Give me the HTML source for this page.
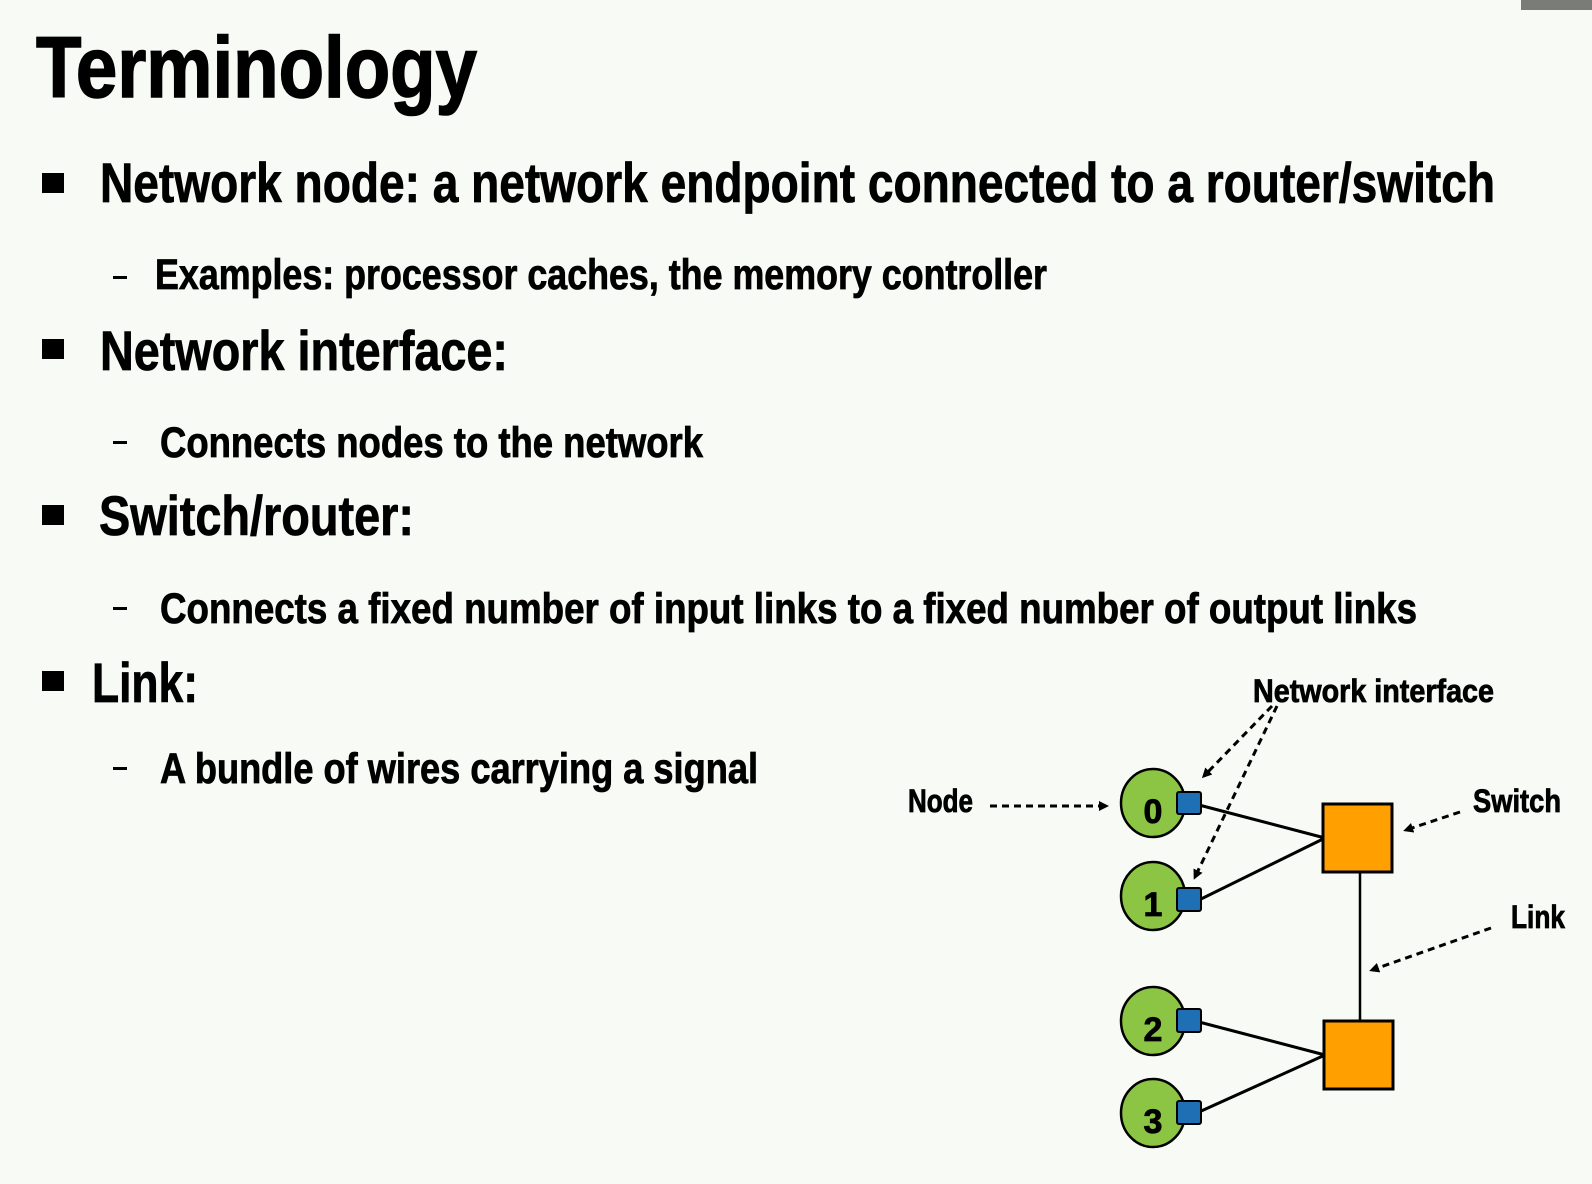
<!DOCTYPE html>
<html><head><meta charset="utf-8"><style>
html,body{margin:0;padding:0;background:#f8fbf5;}
svg{display:block}
text{font-family:"Liberation Sans",sans-serif;font-weight:bold;fill:#000;stroke:#000;stroke-width:0.8}
</style></head><body>
<svg width="1592" height="1184" viewBox="0 0 1592 1184" xmlns="http://www.w3.org/2000/svg">
<defs>
<marker id="ah" markerWidth="10" markerHeight="10" refX="7" refY="5" orient="auto" markerUnits="userSpaceOnUse">
<path d="M0,0 L10,5 L0,10 z" fill="#000"/>
</marker>
</defs>
<rect width="1592" height="1184" fill="#f8fbf5"/>
<rect x="1521" y="0" width="71" height="10" fill="#7a7c78"/>

<text x="36" y="97" font-size="86" textLength="441" lengthAdjust="spacingAndGlyphs" style="stroke-width:1.5">Terminology</text>

<rect x="42" y="173" width="22" height="20" fill="#000"/>
<text x="100" y="202" font-size="56" textLength="1395" lengthAdjust="spacingAndGlyphs">Network node: a network endpoint connected to a router/switch</text>
<rect x="113" y="276" width="14" height="3" fill="#000"/>
<text x="155" y="289" font-size="43" textLength="892" lengthAdjust="spacingAndGlyphs">Examples: processor caches, the memory controller</text>

<rect x="42" y="339" width="22" height="20" fill="#000"/>
<text x="100" y="370" font-size="56" textLength="408" lengthAdjust="spacingAndGlyphs">Network interface:</text>
<rect x="113" y="441" width="14" height="3" fill="#000"/>
<text x="160" y="457" font-size="43" textLength="543" lengthAdjust="spacingAndGlyphs">Connects nodes to the network</text>

<rect x="42" y="505" width="22" height="20" fill="#000"/>
<text x="99" y="535" font-size="56" textLength="315" lengthAdjust="spacingAndGlyphs">Switch/router:</text>
<rect x="113" y="607" width="14" height="3" fill="#000"/>
<text x="160" y="623" font-size="43" textLength="1257" lengthAdjust="spacingAndGlyphs">Connects a fixed number of input links to a fixed number of output links</text>

<rect x="42" y="671" width="22" height="20" fill="#000"/>
<text x="92" y="702" font-size="56" textLength="106" lengthAdjust="spacingAndGlyphs">Link:</text>
<rect x="113" y="767" width="14" height="3" fill="#000"/>
<text x="160" y="783" font-size="43" textLength="598" lengthAdjust="spacingAndGlyphs">A bundle of wires carrying a signal</text>

<!-- diagram -->
<g stroke="#000" stroke-width="3" fill="none">
<line x1="1199" y1="805" x2="1325" y2="838"/>
<line x1="1199" y1="900" x2="1325" y2="838"/>
<line x1="1199" y1="1022" x2="1325" y2="1055"/>
<line x1="1199" y1="1112" x2="1325" y2="1055"/>
<line x1="1360" y1="872" x2="1360" y2="1021" stroke-width="2.5"/>
</g>
<g stroke="#000" stroke-width="2.5" fill="#8cc543">
<ellipse cx="1153" cy="803" rx="32" ry="34"/>
<ellipse cx="1153" cy="896" rx="32" ry="34"/>
<ellipse cx="1153" cy="1021" rx="32" ry="34"/>
<ellipse cx="1153" cy="1113" rx="32" ry="34"/>
</g>
<g stroke="#000" stroke-width="2" fill="#1f6fb4">
<rect x="1177" y="792" width="24" height="22" rx="2"/>
<rect x="1177" y="888" width="24" height="23" rx="2"/>
<rect x="1177" y="1009" width="24" height="23" rx="2"/>
<rect x="1177" y="1101" width="24" height="23" rx="2"/>
</g>
<g stroke="#000" stroke-width="3" fill="#ffa000">
<rect x="1323" y="804" width="69" height="68"/>
<rect x="1324" y="1021" width="69" height="68"/>
</g>
<g font-size="34" text-anchor="middle">
<text x="1153" y="823">0</text>
<text x="1153" y="916">1</text>
<text x="1153" y="1041">2</text>
<text x="1153" y="1133">3</text>
</g>

<g stroke="#000" stroke-width="3" stroke-dasharray="7,5" fill="none" marker-end="url(#ah)">
<line x1="990" y1="806" x2="1106" y2="806"/>
<line x1="1272" y1="706" x2="1204" y2="776"/>
<line x1="1277" y1="706" x2="1195" y2="877"/>
<line x1="1460" y1="812" x2="1406" y2="830"/>
<line x1="1491" y1="928" x2="1372" y2="970"/>
</g>
<g font-size="32">
<text x="908" y="812" textLength="65" lengthAdjust="spacingAndGlyphs">Node</text>
<text x="1253" y="702" textLength="241" lengthAdjust="spacingAndGlyphs">Network interface</text>
<text x="1473" y="812" textLength="88" lengthAdjust="spacingAndGlyphs">Switch</text>
<text x="1511" y="928" textLength="54" lengthAdjust="spacingAndGlyphs">Link</text>
</g>
</svg>
</body></html>
